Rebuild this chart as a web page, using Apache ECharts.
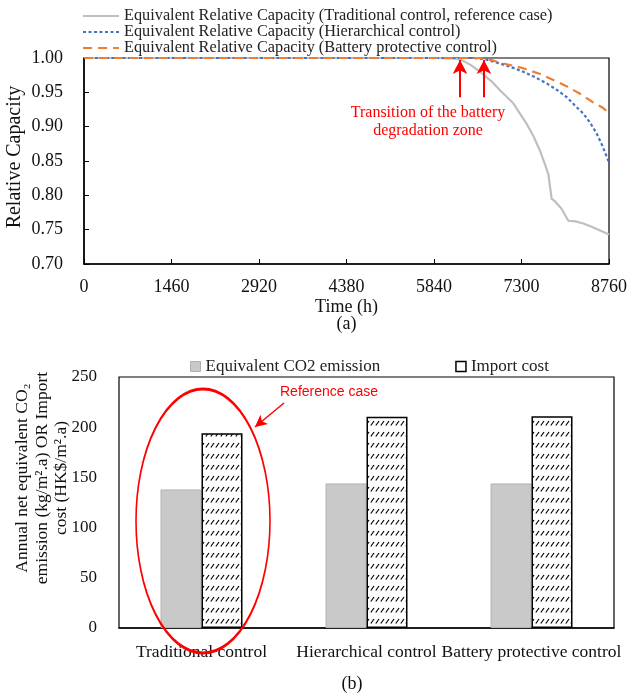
<!DOCTYPE html>
<html>
<head>
<meta charset="utf-8">
<script src="https://cdn.jsdelivr.net/npm/echarts@6/dist/echarts.min.js"></script>
<style>
  html, body { margin: 0; padding: 0; background: #fff; }
  #main { width: 628px; height: 695px; }
</style>
</head>
<body>
<div id="main"></div>
<script>
// (a) relative capacity curves, [time h, relative capacity]
var tradCurve = [[0, 1], [1460, 1], [2920, 1], [4380, 1], [5840, 1], [6200, 0.999], [6300, 0.997],
  [6450, 0.99], [6607, 0.98], [6800, 0.966], [6941, 0.953], [7163, 0.934], [7387, 0.904],
  [7500, 0.886], [7609, 0.865], [7700, 0.843], [7747, 0.831], [7780, 0.81], [7803, 0.795],
  [7850, 0.792], [7971, 0.78], [8081, 0.763], [8200, 0.762], [8332, 0.759], [8500, 0.753], [8760, 0.743]];
var hierCurve = [[0, 1], [1460, 1], [2920, 1], [4380, 1], [5840, 1], [6500, 1], [6700, 0.998],
  [6941, 0.992], [7150, 0.986], [7330, 0.98], [7550, 0.971], [7720, 0.963], [7900, 0.953],
  [8054, 0.943], [8200, 0.93], [8332, 0.919], [8450, 0.905], [8554, 0.89], [8650, 0.872], [8760, 0.848]];
var protCurve = [[0, 1], [1460, 1], [2920, 1], [4380, 1], [5840, 1], [6600, 1], [6800, 0.997],
  [6941, 0.993], [7150, 0.989], [7330, 0.985], [7600, 0.977], [7831, 0.968], [8050, 0.959],
  [8276, 0.948], [8500, 0.935], [8650, 0.928], [8760, 0.92]];
var transitionHours = [6274, 6674];

// (b) annual emission / import cost
var strategies = ['Traditional control', 'Hierarchical control', 'Battery protective control'];
var co2Emission = [138, 144, 144];
var importCost = [194, 210.5, 211];

var serif = 'Liberation Serif';

// hatch tile for import cost bars
var tile = document.createElement('canvas');
tile.width = 5; tile.height = 11;
var tc = tile.getContext('2d');
tc.strokeStyle = '#000';
tc.lineWidth = 1.2;
tc.beginPath();
tc.moveTo(0.8, 7.5);
tc.lineTo(4, 3);
tc.stroke();

var chart = echarts.init(document.getElementById('main'));

var option = {
  backgroundColor: '#fff',
  animation: false,
  textStyle: { fontFamily: serif, color: '#111' },
  grid: [
    { left: 84, top: 58, width: 525, height: 206, show: true, borderColor: '#000', borderWidth: 1.2,
      containLabel: false, outerBoundsMode: 'none' },
    { left: 119, top: 377, width: 495, height: 251, show: true, borderColor: '#000', borderWidth: 1.2,
      containLabel: false, outerBoundsMode: 'none' }
  ],
  legend: [
    {
      orient: 'vertical', left: 77, top: 3, itemWidth: 36, itemHeight: 10, itemGap: 0,
      itemStyle: { opacity: 0 },
      textStyle: { fontFamily: serif, fontSize: 16.3, color: '#222', lineHeight: 16 },
      data: ['Equivalent Relative Capacity (Traditional control, reference case)',
        'Equivalent Relative Capacity (Hierarchical control)',
        'Equivalent Relative Capacity (Battery protective control)']
    },
    {
      left: 185, top: 353, itemWidth: 10, itemHeight: 10, itemGap: 75,
      textStyle: { fontFamily: serif, fontSize: 17, color: '#222' },
      data: [
        { name: 'Equivalent CO2 emission', icon: 'rect', itemStyle: { color: '#c9c9c9', borderColor: '#b0b0b0', borderWidth: 1 } },
        { name: 'Import cost', icon: 'rect', itemStyle: { color: '#fff', borderColor: '#000', borderWidth: 1.5 } }
      ]
    }
  ],
  xAxis: [
    {
      gridIndex: 0, type: 'value', min: 0, max: 8760, interval: 1460,
      name: 'Time (h)\n(a)', nameLocation: 'middle', nameGap: 35,
      nameTextStyle: { fontFamily: serif, fontSize: 18, color: '#111', lineHeight: 17 },
      axisLine: { lineStyle: { color: '#000', width: 1.5 } },
      axisTick: { inside: true, length: 5, lineStyle: { color: '#000' } },
      axisLabel: { fontFamily: serif, fontSize: 18, color: '#111', margin: 14,
        formatter: function (v) { return String(v); } },
      splitLine: { show: false }
    },
    {
      gridIndex: 1, type: 'category', data: strategies,
      axisLine: { lineStyle: { color: '#000', width: 1.5 } },
      axisTick: { show: false },
      axisLabel: { fontFamily: serif, fontSize: 17.5, color: '#111', margin: 15, interval: 0 }
    }
  ],
  yAxis: [
    {
      gridIndex: 0, type: 'value', min: 0.7, max: 1.0, interval: 0.05,
      axisLine: { lineStyle: { color: '#000', width: 1.5 } },
      axisTick: { inside: true, length: 5, lineStyle: { color: '#000' } },
      axisLabel: { fontFamily: serif, fontSize: 18, color: '#111', margin: 21,
        formatter: function (v) { return v.toFixed(2); } },
      splitLine: { show: false }
    },
    {
      gridIndex: 1, type: 'value', min: 0, max: 250, interval: 50,
      axisLine: { lineStyle: { color: '#000', width: 1.5 } },
      axisTick: { inside: true, length: 5, lineStyle: { color: '#000' } },
      axisLabel: { fontFamily: serif, fontSize: 17, color: '#111', margin: 22 },
      splitLine: { show: false }
    }
  ],
  series: [
    {
      name: 'Equivalent Relative Capacity (Traditional control, reference case)',
      type: 'line', xAxisIndex: 0, yAxisIndex: 0, data: tradCurve, symbol: 'none',
      lineStyle: { color: '#bfbfbf', width: 2.2 }, itemStyle: { color: '#bfbfbf' }, z: 2
    },
    {
      name: 'Equivalent Relative Capacity (Hierarchical control)',
      type: 'line', xAxisIndex: 0, yAxisIndex: 0, data: hierCurve, symbol: 'none',
      lineStyle: { color: '#4472c4', width: 2.2, type: [3, 2.5] }, itemStyle: { color: '#4472c4' }, z: 3
    },
    {
      name: 'Equivalent Relative Capacity (Battery protective control)',
      type: 'line', xAxisIndex: 0, yAxisIndex: 0, data: protCurve, symbol: 'none',
      lineStyle: { color: '#ed7d31', width: 2.2, type: [9, 6] }, itemStyle: { color: '#ed7d31' }, z: 4,
      markLine: {
        silent: true, symbol: ['none', 'arrow'], symbolSize: [11, 14],
        lineStyle: { color: '#ff0000', width: 2, type: 'solid' },
        label: { show: false },
        data: transitionHours.map(function (h) {
          return [{ coord: [h, 0.943] }, { coord: [h, 0.997] }];
        })
      }
    },
    {
      name: 'Equivalent CO2 emission', type: 'bar', xAxisIndex: 1, yAxisIndex: 1,
      data: co2Emission, barWidth: 41, barGap: '0%',
      itemStyle: { color: '#c9c9c9', borderColor: '#b4b4b4', borderWidth: 1 },
      markLine: {
        silent: true, symbol: ['none', 'arrow'], symbolSize: [9, 12],
        lineStyle: { color: '#ff0000', width: 1.5, type: 'solid' },
        label: { show: false },
        data: [[{ x: 284, y: 403 }, { x: 255, y: 427 }]]
      }
    },
    {
      name: 'Import cost', type: 'bar', xAxisIndex: 1, yAxisIndex: 1,
      data: importCost, barWidth: 41, barGap: '0%',
      itemStyle: { color: { image: tile, repeat: 'repeat' }, borderColor: '#000', borderWidth: 1.5 }
    }
  ],
  graphic: [
    {
      // y axis name (a)
      type: 'text', x: 15, y: 157, rotation: Math.PI / 2,
      style: {
        text: 'Relative Capacity', textAlign: 'center', textVerticalAlign: 'middle',
        fill: '#111', font: '20px "Liberation Serif"'
      }
    },
    {
      // y axis name (b)
      type: 'text', x: 42, y: 478, rotation: Math.PI / 2,
      style: {
        text: 'Annual net equivalent CO\u2082\nemission (kg/m\u00b2.a) OR Import\ncost (HK$/m\u00b2.a)',
        textAlign: 'center', textVerticalAlign: 'middle', lineHeight: 19.5,
        fill: '#111', font: '17.5px "Liberation Serif"'
      }
    },
    {
      type: 'text', x: 428, y: 104,
      style: {
        text: 'Transition of the battery\ndegradation zone',
        textAlign: 'center', fill: '#ff0000', font: '16px "Liberation Serif"', lineHeight: 18
      }
    },
    {
      type: 'circle', x: 203, y: 521, scaleY: 132 / 67,
      shape: { cx: 0, cy: 0, r: 67 },
      style: { fill: 'none', stroke: '#ff0000', lineWidth: 1.6, strokeNoScale: true },
      z: 20
    },
    {
      type: 'text', x: 280, y: 385,
      style: { text: 'Reference case', fill: '#ff0000', font: '14px "Liberation Sans"' }
    },
    {
      type: 'text', x: 352, y: 675,
      style: { text: '(b)', textAlign: 'center', fill: '#111', font: '18px "Liberation Serif"' }
    }
  ]
};

chart.setOption(option);
</script>
</body>
</html>
